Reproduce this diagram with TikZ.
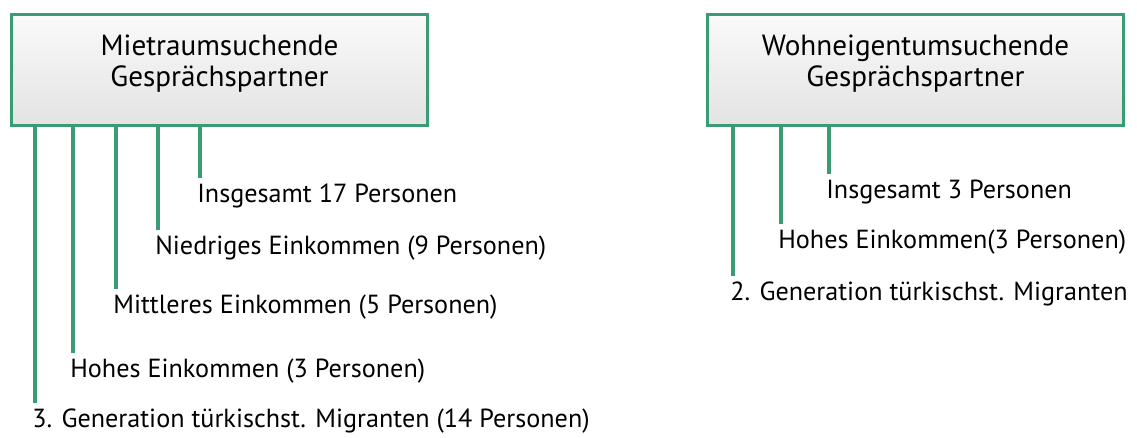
\documentclass[tikz,border=0pt]{standalone}
\usepackage{fontspec}
\setmainfont{PT Sans}
\usepackage{xcolor}
\usetikzlibrary{positioning,calc}
\definecolor{boxgreen}{RGB}{58,156,116}

\begin{document}
\begin{tikzpicture}[x=0.02cm, y=-0.02cm,
    groupbox/.style={draw=boxgreen, line width=2pt, top color=gray!4, bottom color=gray!22,
        minimum width=8.32cm, minimum height=2.22cm, inner sep=0pt, align=center,
        text depth=11pt, font=\fontsize{16.6}{17.6}\selectfont},
    lbl/.style={anchor=base west, inner sep=0pt, text height=13.6pt,
        font=\fontsize{14.9}{16}\selectfont},
    stem/.style={boxgreen, line width=2.2pt}]
    \useasboundingbox (0,0) rectangle (1137,437);

    % Tenants
    \node [groupbox] (miet) at (219.5,70) {Mietraumsuchende\\Gesprächspartner};
    \node [lbl] (ins) at (197,202) {Insgesamt 17 Personen};
    \node [lbl] (nied) at (155,254) {Niedriges Einkommen (9 Personen)};
    \node [lbl] (mitt) at (113,313) {Mittleres Einkommen (5 Personen)};
    \node [lbl] (hoh) at (70,377) {Hohes Einkommen (3 Personen)};
    \node [lbl] (gen) at (32,427) {3. Generation türkischst. Migranten (14 Personen)};
    \foreach \n in {ins, nied, mitt, hoh, gen}
        \draw [stem] ([xshift=1.7pt]\n.north west) -- ([xshift=1.7pt]\n.north west |- miet.south);

    % Owners
    \node [groupbox] (wohn) at (915.5,70) {Wohneigentumsuchende\\Gesprächspartner};
    \node [lbl] (insW) at (826,198) {Insgesamt 3 Personen};
    \node [lbl] (hohW) at (778,248) {Hohes Einkommen(3 Personen)};
    \node [lbl] (genW) at (730,300) {2. Generation türkischst. Migranten};
    \foreach \n in {insW, hohW, genW}
        \draw [stem] ([xshift=1.7pt]\n.north west) -- ([xshift=1.7pt]\n.north west |- wohn.south);
\end{tikzpicture}
\end{document}
